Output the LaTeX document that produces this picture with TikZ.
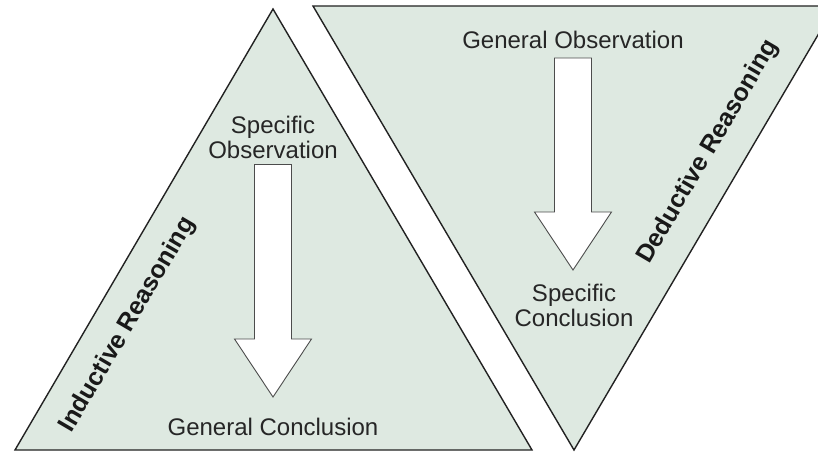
\documentclass[tikz,border=0pt]{standalone}
\usepackage{fontspec}
\setmainfont{Liberation Sans}
\usepackage{xcolor}
\definecolor{CPanel}{HTML}{DEE9E1}
\definecolor{CLine}{HTML}{222222}
\usepackage{tikz}
\usetikzlibrary{calc}
\tikzstyle{panel}=[draw=CLine, fill=CPanel, line width=1.4pt, line join=miter]
\tikzstyle{stepText}=[align=center, font=\fontsize{24}{25}\selectfont, text=black!85, inner sep=2pt]
\tikzstyle{sideLabel}=[font=\fontsize{25}{26}\selectfont\bfseries, text=black!90, rotate=59.6, inner sep=0pt]
\tikzset{bigArrow/.style={draw=black!70, fill=white, line width=0.9pt, to path={
  let \p1=(\tikztostart), \p2=(\tikztotarget) in
  (\x1-18.5pt,\y1) -- (\x1+18.5pt,\y1) -- (\x1+18.5pt,\y2+58pt) -- (\x1+38.5pt,\y2+58pt)
  -- (\x1,\y2) -- (\x1-38.5pt,\y2+58pt) -- (\x1-18.5pt,\y2+58pt) -- cycle}}}

\begin{document}
\begin{tikzpicture}[x=1pt,y=1pt]
\useasboundingbox (0,0) rectangle (818,453);
\clip (0,0) rectangle (818,453);

% the two triangles
\draw[panel] (15,3) -- (273,444) -- (532,3) -- cycle;
\draw[panel] (313,447) -- (835,447) -- (574,3) -- cycle;

% inductive side
\node[stepText] (specobs) at (273,316) {Specific\\Observation};
\node[stepText] (gencon) at (273,26) {General Conclusion};
\node[sideLabel] (induct) at (128,128) {Inductive Reasoning};

% deductive side
\node[stepText] (genobs) at (573,413) {General Observation};
\node[stepText] (speccon) at (574,148) {Specific\\Conclusion};
\node[sideLabel] (deduct) at (708,301) {Deductive Reasoning};

\draw[bigArrow] ([yshift=-4pt]specobs.south) to ([yshift=30pt]gencon.center);
\draw[bigArrow] ([yshift=-7pt]genobs.south) to ([yshift=35pt]speccon.center);
\end{tikzpicture}
\end{document}
